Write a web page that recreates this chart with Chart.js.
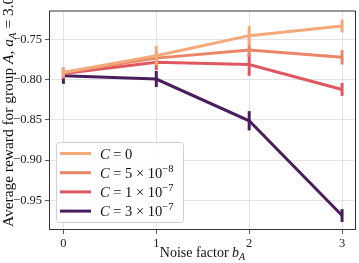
<!DOCTYPE html>
<html>
<head>
<meta charset="utf-8">
<script src="https://cdn.jsdelivr.net/npm/chart.js@4"></script>
<style>
  html, body { margin: 0; padding: 0; background: #fff; }
  #wrap { width: 359px; height: 263px; }
</style>
</head>
<body>
<div id="wrap"><canvas id="chart" width="359" height="263"></canvas></div>
<script>
// noise factor b_A on the x axis
const noiseFactors = [0, 1, 2, 3];

// series labels: [coefficient, exponent] (null = plain "0")
const seriesNames = [['0', null], ['5', '−8'], ['1', '−7'], ['3', '−7']];
const seriesColors = ['#f3a979', '#ec8468', '#e0585f', '#4a1d5d'];

// mean reward per series
const rewardC0 = [-0.791, -0.770, -0.745, -0.733];
const rewardC5e8 = [-0.791, -0.773, -0.763, -0.772];
const rewardC1e7 = [-0.792, -0.778, -0.781, -0.812];
const rewardC3e7 = [-0.795, -0.799, -0.851, -0.969];

// half length of error bars
const errC0 = [0.006, 0.012, 0.012, 0.008];
const errC5e8 = [0.005, 0.009, 0.008, 0.009];
const errC1e7 = [0.007, 0.010, 0.014, 0.008];
const errC3e7 = [0.010, 0.010, 0.012, 0.008];

const yTicks = [-0.95, -0.90, -0.85, -0.80, -0.75];

const allRewards = [rewardC0, rewardC5e8, rewardC1e7, rewardC3e7];
const allErrors = [errC0, errC5e8, errC1e7, errC3e7];

const SERIF = '"Liberation Serif", "DejaVu Serif", serif';

// vertical error bars, drawn right after each line
const errorBars = {
  id: 'errorBars',
  afterDatasetDraw(chart, args) {
    const ctx = chart.ctx;
    const xs = chart.scales.x, ys = chart.scales.y;
    const i = args.index;
    ctx.save();
    ctx.strokeStyle = seriesColors[i];
    ctx.lineWidth = 3;
    noiseFactors.forEach((b, j) => {
      const m = allRewards[i][j], e = allErrors[i][j];
      const px = xs.getPixelForValue(b);
      ctx.beginPath();
      ctx.moveTo(px, ys.getPixelForValue(m - e));
      ctx.lineTo(px, ys.getPixelForValue(m + e));
      ctx.stroke();
    });
    ctx.restore();
  }
};

// frame, axis titles and legend
const decorations = {
  id: 'decorations',
  afterDraw(chart) {
    const ctx = chart.ctx;
    const a = chart.chartArea;
    ctx.save();

    // frame
    ctx.strokeStyle = '#333';
    ctx.lineWidth = 1;
    ctx.strokeRect(a.left + 0.5, a.top + 0.5, a.right - a.left - 1, a.bottom - a.top - 1);

    // x title
    ctx.fillStyle = '#111';
    ctx.textBaseline = 'alphabetic';
    const p1 = 'Noise factor ';
    ctx.font = '14px ' + SERIF;
    const w1 = ctx.measureText(p1).width;
    ctx.font = 'italic 14px ' + SERIF;
    const w2 = ctx.measureText('b').width;
    ctx.font = 'italic 10px ' + SERIF;
    const w3 = ctx.measureText('A').width;
    let x0 = (a.left + a.right) / 2 - (w1 + w2 + w3) / 2;
    const yb = 257;
    ctx.font = '14px ' + SERIF;
    ctx.textAlign = 'left';
    ctx.fillText(p1, x0, yb);
    ctx.font = 'italic 14px ' + SERIF;
    ctx.fillText('b', x0 + w1, yb);
    ctx.font = 'italic 10px ' + SERIF;
    ctx.fillText('A', x0 + w1 + w2, yb + 3);

    // y title (runs off the top like the original)
    ctx.translate(13, 227);
    ctx.rotate(-Math.PI / 2);
    ctx.scale(1.1, 1);
    let cx = 0;
    const put = (txt, font, dy) => {
      ctx.font = font;
      ctx.fillText(txt, cx, dy || 0);
      cx += ctx.measureText(txt).width;
    };
    put('Average reward for group ', '14px ' + SERIF);
    put('A', 'italic 14px ' + SERIF);
    put(', ', '14px ' + SERIF);
    put('a', 'italic 14px ' + SERIF);
    put('A', 'italic 10px ' + SERIF, 3);
    put(' = 3.0', '14px ' + SERIF);
    ctx.setTransform(1, 0, 0, 1, 0, 0);

    // legend
    const lx = 56.5, ly = 142.5, lw = 127, lh = 80;
    ctx.fillStyle = 'rgba(255,255,255,0.85)';
    ctx.strokeStyle = '#d0d0d0';
    ctx.lineWidth = 1;
    ctx.beginPath();
    ctx.roundRect(lx, ly, lw, lh, 3);
    ctx.fill();
    ctx.stroke();
    seriesNames.forEach((s, i) => {
      const ry = 153.5 + i * 19.2;
      ctx.strokeStyle = seriesColors[i];
      ctx.lineWidth = 3;
      ctx.beginPath();
      ctx.moveTo(60, ry);
      ctx.lineTo(91, ry);
      ctx.stroke();
      ctx.fillStyle = '#111';
      cx = 100;
      const by = ry + 5;
      const putL = (txt, font, dy) => {
        ctx.font = font;
        ctx.fillText(txt, cx, by + (dy || 0));
        cx += ctx.measureText(txt).width;
      };
      putL('C', 'italic 14.5px ' + SERIF);
      putL(' = ' + s[0], '14.5px ' + SERIF);
      if (s[1]) {
        putL(' × 10', '14.5px ' + SERIF);
        putL(s[1], '10.5px ' + SERIF, -6);
      }
    });
    ctx.restore();
  }
};

const datasets = allRewards.map((r, i) => ({
  label: 'C' + i,
  data: noiseFactors.map((b, j) => ({ x: b, y: r[j] })),
  borderColor: seriesColors[i],
  backgroundColor: seriesColors[i],
  borderWidth: 3,
  pointRadius: 0,
  tension: 0,
  borderCapStyle: 'butt'
}));

new Chart(document.getElementById('chart'), {
  type: 'line',
  data: { datasets },
  plugins: [errorBars, decorations],
  options: {
    responsive: false,
    animation: false,
    devicePixelRatio: 1,
    layout: { padding: { top: 2, right: 3, left: 0, bottom: 0 } },
    plugins: { legend: { display: false }, tooltip: { enabled: false } },
    scales: {
      x: {
        type: 'linear',
        min: -0.155,
        max: 3.15,
        afterBuildTicks: s => { s.ticks = noiseFactors.map(v => ({ value: v })); },
        afterFit: s => { s.height = 33; },
        grid: {
          color: '#dcdcdc', lineWidth: 0.8, borderDash: [1.5, 1.5],
          drawTicks: true, tickLength: 4, tickColor: '#333', tickBorderDash: []
        },
        border: { display: false },
        ticks: {
          color: '#222', padding: 2,
          font: { family: SERIF, size: 12.5 },
          callback: v => String(v)
        }
      },
      y: {
        min: -0.987,
        max: -0.7137,
        afterBuildTicks: s => { s.ticks = yTicks.map(v => ({ value: v })); },
        afterFit: s => { s.width = 49; },
        grid: {
          color: '#dcdcdc', lineWidth: 0.8, borderDash: [1.5, 1.5],
          drawTicks: true, tickLength: 4, tickColor: '#333', tickBorderDash: []
        },
        border: { display: false },
        ticks: {
          color: '#222', padding: 3,
          font: { family: SERIF, size: 12.5 },
          callback: v => '−' + Math.abs(v).toFixed(2)
        }
      }
    }
  }
});
</script>
</body>
</html>
